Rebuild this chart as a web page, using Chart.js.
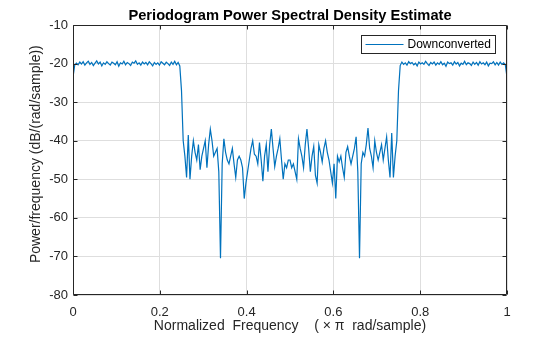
<!DOCTYPE html>
<html>
<head>
<meta charset="utf-8">
<script src="https://cdn.jsdelivr.net/npm/chart.js@4"></script>
<style>
  html, body { margin: 0; padding: 0; background: #fff; }
  #wrap { width: 560px; height: 337px; }
</style>
</head>
<body>
<div id="wrap"><canvas id="psdChart" width="560" height="337"></canvas></div>
<script>
// Periodogram of the downconverted signal, dB/(rad/sample), 257 bins from 0 to pi
const psdLow = [
  -23.5, -20.4, -19.9, -20.3, -19.6, -20.1, -19.5, -20.4, -19.8, -19.4,
  -20.2, -19.7, -20.5, -19.9, -19.3, -20.1, -19.6, -20.6, -19.8, -20.2,
  -19.5, -20.0, -20.4, -19.6, -19.9, -20.3, -19.5, -20.7, -19.8, -20.1,
  -19.4, -20.3, -19.7, -20.0, -20.5, -19.6, -19.9, -19.3, -20.2, -19.8,
  -20.4, -19.6, -20.1, -19.7, -20.3, -19.5, -20.0, -20.6, -19.7, -20.2,
  -19.8, -20.4, -19.5, -19.9, -20.3, -19.6, -20.0, -20.5, -19.6, -20.2,
  -19.4, -20.3, -19.7, -20.6
];
const psdStop = [
  -27, -40, -44, -49.5, -38.5, -50, -44, -40, -43, -45,
  -41, -47.5, -44, -42, -40, -47, -41, -37, -40, -44,
  -43, -42, -48, -70.5, -46, -39.5, -43, -45, -46, -44,
  -42, -46, -49.5, -45, -44, -45, -47, -55, -51, -48,
  -45, -42, -40, -43.5, -44, -46, -40.5, -45, -50.5, -44,
  -41, -48, -41, -37, -42, -46.7, -44, -42, -39.5, -45,
  -50, -46, -47, -45, -45, -47, -46, -48, -50, -39.5,
  -42, -44, -47, -41, -37, -42, -48, -44, -41.5, -49,
  -51, -41, -43, -45.5, -42, -40, -43, -45, -48, -51,
  -46, -55, -44, -45.5, -44, -47, -49.5, -43, -41.5, -44,
  -46, -44, -42, -39, -48, -70.5, -46, -43, -44, -41,
  -36.7, -42, -44, -47, -40, -43, -45, -43, -41, -45,
  -42, -39, -45, -49.5, -38, -49.5, -44, -40, -27
];
const psdHigh = [
  -20.5, -19.6, -20.2, -19.8, -20.4, -19.5, -20.0, -19.7, -20.3, -19.9,
  -20.6, -19.6, -20.1, -19.8, -20.2, -19.4, -20.0, -20.5, -19.7, -20.1,
  -19.6, -20.4, -19.8, -20.2, -19.5, -20.3, -19.9, -20.7, -19.6, -20.0,
  -19.8, -20.4, -19.5, -20.1, -19.7, -20.6, -19.9, -20.2, -19.4, -20.3,
  -19.8, -20.0, -20.5, -19.6, -20.2, -19.7, -20.4, -19.5, -20.1, -19.8,
  -20.3, -19.6, -20.6, -19.9, -20.0, -19.5, -20.3, -19.7, -20.4, -19.6,
  -20.2, -19.8, -20.3, -23.5
];
const xTicks = [0, 0.2, 0.4, 0.6, 0.8, 1];
const yTicks = [-80, -70, -60, -50, -40, -30, -20, -10];

const psd = psdLow.concat(psdStop, psdHigh);
const points = psd.map((v, i) => ({ x: i / (psd.length - 1), y: v }));

const FONT = "'Liberation Sans', Arial, Helvetica, sans-serif";
const AXIS_COLOR = '#262626';

// box around the axes with inward tick marks on all four sides
const axesBox = {
  id: 'axesBox',
  afterDraw(chart) {
    const { ctx, chartArea: a, scales } = chart;
    const L = Math.round(a.left) + 0.5, R = Math.round(a.right) - 0.5;
    const T = Math.round(a.top) + 0.5, B = Math.round(a.bottom) - 0.5;
    const len = 4;
    ctx.save();
    ctx.strokeStyle = AXIS_COLOR;
    ctx.lineWidth = 1;
    ctx.beginPath();
    ctx.rect(L, T, R - L, B - T);
    xTicks.forEach(v => {
      const px = Math.round(scales.x.getPixelForValue(v)) + 0.5;
      ctx.moveTo(px, B); ctx.lineTo(px, B - len);
      ctx.moveTo(px, T); ctx.lineTo(px, T + len);
    });
    yTicks.forEach(v => {
      const py = Math.round(scales.y.getPixelForValue(v)) + 0.5;
      ctx.moveTo(L, py); ctx.lineTo(L + len, py);
      ctx.moveTo(R, py); ctx.lineTo(R - len, py);
    });
    ctx.stroke();
    ctx.restore();
  }
};

// legend drawn inside the plot, upper right
const insideLegend = {
  id: 'insideLegend',
  afterDraw(chart) {
    const { ctx } = chart;
    const ds = chart.data.datasets[0];
    const x0 = 361.5, y0 = 35.5, w = 134, h = 18;
    ctx.save();
    ctx.fillStyle = '#fff';
    ctx.fillRect(x0, y0, w, h);
    ctx.strokeStyle = AXIS_COLOR;
    ctx.lineWidth = 1;
    ctx.strokeRect(x0, y0, w, h);
    ctx.strokeStyle = ds.borderColor;
    ctx.beginPath();
    ctx.moveTo(x0 + 4, y0 + h / 2);
    ctx.lineTo(x0 + 42, y0 + h / 2);
    ctx.stroke();
    ctx.fillStyle = '#000';
    ctx.font = '12px ' + FONT;
    ctx.textBaseline = 'middle';
    ctx.fillText(ds.label, x0 + 46, y0 + h / 2 + 0.5);
    ctx.restore();
  }
};

const chart = new Chart(document.getElementById('psdChart'), {
  type: 'line',
  data: {
    datasets: [{
      label: 'Downconverted',
      data: points,
      borderColor: '#0072BD',
      borderWidth: 1.2,
      pointRadius: 0,
      tension: 0,
      fill: false
    }]
  },
  options: {
    responsive: false,
    animation: false,
    devicePixelRatio: 1,
    layout: { padding: { left: 0, right: 53, top: 0, bottom: 0 } },
    plugins: {
      legend: { display: false },
      tooltip: { enabled: false },
      title: {
        display: true,
        fullSize: false,
        text: 'Periodogram Power Spectral Density Estimate',
        color: '#000',
        font: { family: FONT, size: 14.7, weight: 'bold' },
        padding: { top: 7, bottom: 0.4 }
      }
    },
    scales: {
      x: {
        type: 'linear',
        min: 0,
        max: 1,
        afterBuildTicks: s => { s.ticks = xTicks.map(v => ({ value: v })); },
        afterFit: s => { s.height = 42; },
        ticks: {
          color: AXIS_COLOR,
          font: { family: FONT, size: 13 },
          padding: 10,
          maxRotation: 0,
          callback: v => String(v)
        },
        grid: { color: '#dedede', drawTicks: false },
        border: { display: false },
        title: {
          display: true,
          text: 'Normalized  Frequency    ( \u00d7 \u03c0  rad/sample)',
          color: AXIS_COLOR,
          font: { family: FONT, size: 14 },
          padding: { top: 0, bottom: 2 }
        }
      },
      y: {
        min: -80,
        max: -10,
        afterBuildTicks: s => { s.ticks = yTicks.map(v => ({ value: v })); },
        afterFit: s => { s.width = 73; },
        ticks: {
          color: AXIS_COLOR,
          font: { family: FONT, size: 13 },
          padding: 5
        },
        grid: { color: '#dedede', drawTicks: false },
        border: { display: false },
        title: {
          display: true,
          text: '   Power/frequency (dB/(rad/sample))',
          color: AXIS_COLOR,
          font: { family: FONT, size: 14 },
          padding: { top: 28, bottom: 0 }
        }
      }
    }
  },
  plugins: [axesBox, insideLegend]
});
</script>
</body>
</html>
